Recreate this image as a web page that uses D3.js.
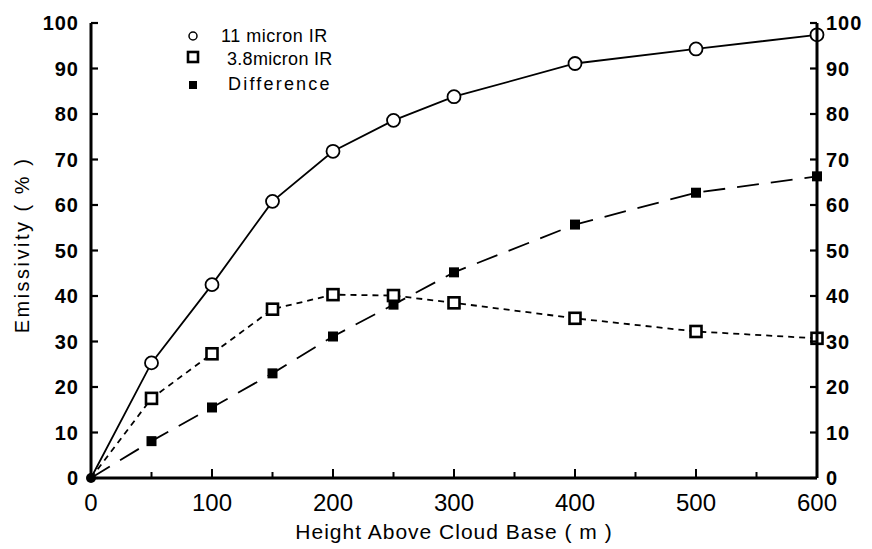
<!DOCTYPE html>
<html><head><meta charset="utf-8">
<script src="https://cdn.jsdelivr.net/npm/d3@7"></script>
<style>body{margin:0;background:#fff}svg{display:block}</style>
</head><body>
<script>
const heights = [0, 50, 100, 150, 200, 250, 300, 400, 500, 600];
const ir11 = [0, 25.3, 42.5, 60.8, 71.8, 78.6, 83.8, 91.1, 94.3, 97.4];
const ir38 = [0, 17.5, 27.3, 37.1, 40.3, 40.1, 38.5, 35.1, 32.2, 30.7];
const diff = [0, 8.1, 15.5, 23.0, 31.1, 38.1, 45.2, 55.7, 62.7, 66.3];
const yTicks = [0, 10, 20, 30, 40, 50, 60, 70, 80, 90, 100];
const xTicks = [0, 100, 200, 300, 400, 500, 600];
const xMinor = [50, 150, 250, 350, 450, 550];
const legendLabels = ["11 micron IR", "3.8micron IR", "Difference"];

const W = 872, H = 549;
const FONT = "Liberation Sans, Arial, sans-serif";
const svg = d3.select("body").append("svg").attr("width", W).attr("height", H);
const x = d3.scaleLinear().domain([0, 600]).range([91, 817]);
const y = d3.scaleLinear().domain([0, 100]).range([478, 23]);

const g = svg.append("g");
const toPts = vals => heights.map((h, i) => [h, vals[i]]);
const line = d3.line().x(d => x(d[0])).y(d => y(d[1]));

// lines
g.append("path").attr("d", line(toPts(ir11))).attr("fill", "none").attr("stroke", "#000").attr("stroke-width", 1.8);
g.append("path").attr("d", line(toPts(ir38))).attr("fill", "none").attr("stroke", "#000").attr("stroke-width", 1.8).attr("stroke-dasharray", "6,5");
g.append("path").attr("d", line(toPts(diff))).attr("fill", "none").attr("stroke", "#000").attr("stroke-width", 1.8).attr("stroke-dasharray", "22,12");

// axes
const axW = 3;
svg.append("line").attr("x1", x(0)).attr("x2", x(600)).attr("y1", y(0)).attr("y2", y(0)).attr("stroke", "#000").attr("stroke-width", axW);
svg.append("line").attr("x1", x(0)).attr("x2", x(0)).attr("y1", y(0)).attr("y2", y(100)).attr("stroke", "#000").attr("stroke-width", axW);
svg.append("line").attr("x1", x(600)).attr("x2", x(600)).attr("y1", y(0)).attr("y2", y(100)).attr("stroke", "#000").attr("stroke-width", axW);

// y ticks (inward)
yTicks.forEach(t => {
  svg.append("line").attr("x1", x(0)).attr("x2", x(0) + 7).attr("y1", y(t)).attr("y2", y(t)).attr("stroke", "#000").attr("stroke-width", 2.2);
  svg.append("line").attr("x1", x(600)).attr("x2", x(600) - 7).attr("y1", y(t)).attr("y2", y(t)).attr("stroke", "#000").attr("stroke-width", 2.2);
  svg.append("text").attr("x", x(0) - 12).attr("y", y(t)).attr("dy", "0.36em").attr("text-anchor", "end")
    .attr("font-family", FONT).attr("font-weight", "bold").attr("font-size", 20).attr("letter-spacing", 1).text(t);
  svg.append("text").attr("x", x(600) + 9).attr("y", y(t)).attr("dy", "0.36em").attr("text-anchor", "start")
    .attr("font-family", FONT).attr("font-weight", "bold").attr("font-size", 20).attr("letter-spacing", 1).text(t);
});
// x ticks (inward, up)
xTicks.forEach(t => {
  svg.append("line").attr("x1", x(t)).attr("x2", x(t)).attr("y1", y(0)).attr("y2", y(0) - 9).attr("stroke", "#000").attr("stroke-width", 2);
  svg.append("text").attr("x", x(t)).attr("y", 511).attr("text-anchor", "middle")
    .attr("font-family", FONT).attr("font-size", 24).text(t);
});
xMinor.forEach(t => {
  svg.append("line").attr("x1", x(t)).attr("x2", x(t)).attr("y1", y(0)).attr("y2", y(0) - 6).attr("stroke", "#000").attr("stroke-width", 2);
});

// axis titles
svg.append("text").attr("x", 454).attr("y", 539).attr("text-anchor", "middle")
  .attr("font-family", FONT).attr("font-size", 21).attr("letter-spacing", 1).text("Height Above Cloud Base ( m )");
svg.append("text").attr("transform", "translate(29,245) rotate(-90)").attr("text-anchor", "middle")
  .attr("font-family", FONT).attr("font-size", 20).attr("letter-spacing", 2.5).text("Emissivity ( % )");

// markers
const pts11 = toPts(ir11), pts38 = toPts(ir38), ptsD = toPts(diff);
g.selectAll(".c11").data(pts11.slice(1)).enter().append("circle")
  .attr("cx", d => x(d[0])).attr("cy", d => y(d[1])).attr("r", 6.5)
  .attr("fill", "#fff").attr("stroke", "#000").attr("stroke-width", 1.8);
g.selectAll(".s38").data(pts38.slice(1)).enter().append("rect")
  .attr("x", d => x(d[0]) - 5.5).attr("y", d => y(d[1]) - 5.5).attr("width", 11).attr("height", 11)
  .attr("fill", "#fff").attr("stroke", "#000").attr("stroke-width", 2.6);
g.selectAll(".sd").data(ptsD.slice(1)).enter().append("rect")
  .attr("x", d => x(d[0]) - 5).attr("y", d => y(d[1]) - 5).attr("width", 10).attr("height", 10)
  .attr("fill", "#000");
g.append("circle").attr("cx", x(0)).attr("cy", y(0)).attr("r", 5).attr("fill", "#000");

// legend
const lg = svg.append("g");
const ly = [36, 59, 84];
lg.append("circle").attr("cx", 193).attr("cy", ly[0]).attr("r", 4).attr("fill", "#fff").attr("stroke", "#000").attr("stroke-width", 1.5);
lg.append("rect").attr("x", 188).attr("y", ly[1] - 7).attr("width", 10).attr("height", 10).attr("fill", "#fff").attr("stroke", "#000").attr("stroke-width", 2.6);
lg.append("rect").attr("x", 189).attr("y", ly[2] - 3).attr("width", 8).attr("height", 8).attr("fill", "#000");
const lx = [221, 227, 228];
const ls = [0.5, 0.3, 2.2];
legendLabels.forEach((l, i) => {
  lg.append("text").attr("x", lx[i]).attr("y", ly[i]).attr("dy", "0.35em")
    .attr("font-family", FONT).attr("font-size", 18).attr("letter-spacing", ls[i]).text(l);
});
</script>
</body></html>
